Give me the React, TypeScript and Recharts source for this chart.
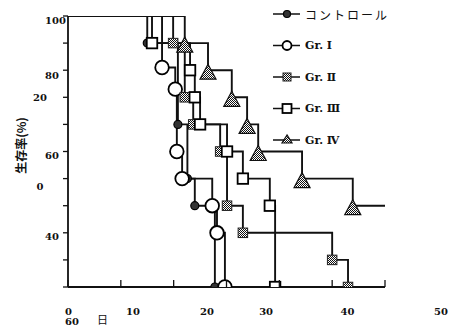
import { LineChart, Line, XAxis, YAxis, Legend } from 'recharts';

// survival (%) against days
const controlDays = [0, 15.0, 20.8, 22.6, 24.0, 27.8];
const controlSurv = [100, 90, 60, 40, 30, 0];
const gr1Days = [0, 17.8, 20.3, 20.6, 21.6, 27.3, 28.2, 29.7];
const gr1Surv = [100, 81, 73, 50, 40, 30, 20, 0];
const gr2Days = [0, 19.9, 22.1, 23.7, 28.8, 30.1, 33.1, 50.0, 53.0];
const gr2Surv = [100, 90, 70, 60, 50, 30, 20, 10, 0];
const gr3Days = [0, 15.9, 23.1, 24.0, 25.0, 30.1, 33.1, 38.2, 39.2];
const gr3Surv = [100, 90, 80, 70, 60, 50, 40, 30, 0];
const gr4Days = [0, 22.1, 26.5, 31.0, 33.9, 36.0, 44.3, 53.9, 60];
const gr4Surv = [100, 90, 80, 70, 60, 50, 40, 30, 30];

const seriesKeys = ['control', 'gr1', 'gr2', 'gr3', 'gr4'];
const seriesNames = ['コントロール', 'Gr. Ⅰ', 'Gr. Ⅱ', 'Gr. Ⅲ', 'Gr. Ⅳ'];

// tick marks and the (misplaced) tick labels of the scan
const xTickMarks = [0, 10, 20, 30, 40, 50, 60];
const xLabelAt = [0.1, 12.3, 26.3, 37.5, 52.9, 70.6];
const xLabelText = ['0', '10', '20', '30', '40', '50'];
const xTitle = ['60', '日'];

const yTickMarks = [0, 10, 20, 30, 40, 50, 60, 70, 80, 90, 100];
const yLabelAt = [98.2, 78.2, 48.7, 18.8];
const yLabelText = ['100', '80', '60', '40'];
const yStrayAt = [70.1, 37.3];
const yStrayText = ['20', '0'];
const yTitle = '生存率(%)';

const NUM_FONT = '"DejaVu Serif", serif';
const JP_FONT = '"Noto Sans CJK JP", sans-serif';
const INK = '#111';

const toPoints = (days: number[], surv: number[]) =>
  days.map((d, i) => ({
    day: d,
    surv: surv[i],
    mark: i > 0 && surv[i] !== surv[i - 1],
  }));

const seriesData: Record<string, any[]> = {
  control: toPoints(controlDays, controlSurv),
  gr1: toPoints(gr1Days, gr1Surv),
  gr2: toPoints(gr2Days, gr2Surv),
  gr3: toPoints(gr3Days, gr3Surv),
  gr4: toPoints(gr4Days, gr4Surv),
};

const Hatch = () => (
  <defs>
    <pattern id="hatch" width="2" height="2" patternUnits="userSpaceOnUse">
      <rect width="2" height="2" fill="#fff" />
      <rect width="1" height="1" fill="#111" />
      <rect x="1" y="1" width="1" height="1" fill="#111" />
    </pattern>
  </defs>
);

const Marker = ({ kind, cx, cy, small = false }: { kind: string; cx: number; cy: number; small?: boolean }) => {
  if (kind === 'control') {
    return <circle cx={cx} cy={cy} r={small ? 3.5 : 4} fill="#333" stroke="#000" strokeWidth={1.2} />;
  }
  if (kind === 'gr1') {
    const r = small ? 4.5 : 6.8;
    return <circle cx={cx} cy={cy} r={r} fill="#fff" stroke="#000" strokeWidth={1.8} />;
  }
  if (kind === 'gr2') {
    const s = small ? 8 : 9.5;
    return (
      <g>
        <Hatch />
        <rect x={cx - s / 2} y={cy - s / 2} width={s} height={s} fill="url(#hatch)" stroke="#222" strokeWidth={1} />
      </g>
    );
  }
  if (kind === 'gr3') {
    const s = small ? 9 : 10.5;
    return <rect x={cx - s / 2} y={cy - s / 2} width={s} height={s} fill="#fff" stroke="#000" strokeWidth={1.8} />;
  }
  const w = small ? 5 : 8;
  const up = small ? 5 : 6;
  const down = small ? 3 : 9;
  return (
    <g>
      <Hatch />
      <polygon
        points={`${cx},${cy - up} ${cx - w},${cy + down} ${cx + w},${cy + down}`}
        fill="url(#hatch)"
        stroke="#111"
        strokeWidth={1.2}
      />
    </g>
  );
};

const makeDot = (kind: string) => (props: any) => {
  const { cx, cy, payload, index } = props;
  if (!payload || !payload.mark || cx == null || cy == null) return <g key={`${kind}-e-${index}`} />;
  return (
    <g key={`${kind}-d-${index}`}>
      <Marker kind={kind} cx={cx} cy={cy} />
    </g>
  );
};

const YTick = (props: any) => {
  const { x, y, payload } = props;
  const v = payload.value;
  const main = yLabelAt.indexOf(v);
  if (main >= 0) {
    return (
      <text x={x - 23} y={y + 3.6} textAnchor="start" fontFamily={NUM_FONT} fontWeight="bold" fontSize={10} fill={INK}>
        {yLabelText[main]}
      </text>
    );
  }
  const stray = yStrayAt.indexOf(v);
  if (stray >= 0) {
    return (
      <text x={x - 28} y={y + 3.6} textAnchor="middle" fontFamily={NUM_FONT} fontWeight="bold" fontSize={10} fill={INK}>
        {yStrayText[stray]}
      </text>
    );
  }
  return <line x1={x - 5} x2={x} y1={y} y2={y} stroke={INK} strokeWidth={1.3} />;
};

const XTick = (props: any) => {
  const { x, y, payload } = props;
  const i = xLabelAt.indexOf(payload.value);
  if (i >= 0) {
    return (
      <text x={x} y={y + 28} textAnchor="middle" fontFamily={NUM_FONT} fontWeight="bold" fontSize={10} fill={INK}>
        {xLabelText[i]}
      </text>
    );
  }
  return <line x1={x} x2={x} y1={y} y2={y - 7} stroke={INK} strokeWidth={1.3} />;
};

const XTitle = (props: any) => {
  const vb = props.viewBox || { x: 68, y: 287 };
  return (
    <g>
      <text x={vb.x - 3} y={vb.y + 37.5} fontFamily={NUM_FONT} fontWeight="bold" fontSize={10} fill={INK}>
        {xTitle[0]}
      </text>
      <text x={vb.x + 29} y={vb.y + 36.5} fontFamily={JP_FONT} fontSize={11} fill={INK}>
        {xTitle[1]}
      </text>
    </g>
  );
};

const YTitle = (props: any) => {
  const vb = props.viewBox || { x: 0, y: 16, width: 68, height: 271 };
  const cx = vb.x + 20;
  const cy = vb.y + vb.height / 2 - 6;
  return (
    <text
      x={cx}
      y={cy}
      transform={`rotate(-90, ${cx}, ${cy})`}
      textAnchor="middle"
      dominantBaseline="central"
      fontFamily={JP_FONT}
      fontWeight="bold"
      fontSize={12}
      style={{ fill: INK }}
    >
      {yTitle}
    </text>
  );
};

const LegendBox = () => (
  <svg width={180} height={152}>
    {seriesKeys.map((k, i) => {
      const y = 14 + i * 31.5;
      return (
        <g key={k}>
          <line x1={3} x2={30} y1={y} y2={y} stroke={INK} strokeWidth={1.5} />
          <Marker kind={k} cx={17} cy={y} small />
          <text
            x={35}
            y={y}
            dominantBaseline="central"
            fontFamily={i === 0 ? JP_FONT : NUM_FONT}
            fontWeight={i === 0 ? 'normal' : 'bold'}
            fontSize={i === 0 ? 12 : 11}
            letterSpacing={i === 0 ? 2 : 0}
            fill={INK}
          >
            {seriesNames[i]}
          </text>
        </g>
      );
    })}
  </svg>
);

export default function App() {
  return (
    <div style={{ position: 'absolute', left: 0, top: 0, background: '#fff' }}>
      <LineChart width={454} height={327} margin={{ top: 16, right: 69, bottom: 0, left: 0 }}>
        <XAxis
          type="number"
          dataKey="day"
          domain={[0, 60]}
          allowDataOverflow
          ticks={[...xTickMarks, ...xLabelAt]}
          interval={0}
          tickLine={false}
          tickSize={0}
          tickMargin={0}
          height={40}
          axisLine={{ stroke: INK, strokeWidth: 1.8 }}
          tick={<XTick />}
          label={<XTitle />}
        />
        <YAxis
          type="number"
          domain={[0, 100]}
          allowDataOverflow
          ticks={[...yTickMarks, ...yLabelAt, ...yStrayAt]}
          interval={0}
          tickLine={false}
          tickSize={0}
          tickMargin={0}
          width={68}
          axisLine={{ stroke: INK, strokeWidth: 1.8 }}
          tick={<YTick />}
          label={<YTitle />}
        />
        <Legend
          layout="vertical"
          align="center"
          verticalAlign="middle"
          wrapperStyle={{ left: 270, top: 0, width: 180 }}
          content={() => <LegendBox />}
        />
        {seriesKeys.map((k, i) => (
          <Line
            key={k}
            name={seriesNames[i]}
            data={seriesData[k]}
            dataKey="surv"
            type="stepAfter"
            stroke={INK}
            strokeWidth={1.9}
            dot={makeDot(k)}
            activeDot={false}
            legendType="none"
            isAnimationActive={false}
          />
        ))}
      </LineChart>
    </div>
  );
}
